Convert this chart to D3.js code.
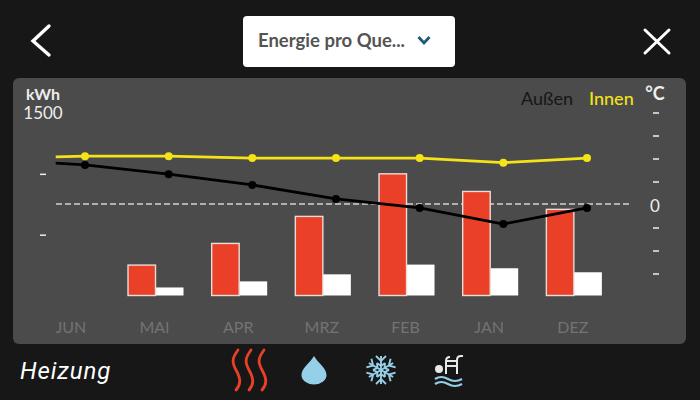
<!DOCTYPE html>
<html>
<head>
<meta charset="utf-8">
<script src="https://cdn.jsdelivr.net/npm/d3@7"></script>
<style>
    html, body { margin: 0; padding: 0; background: #171717; overflow: hidden; }
    svg { display: block; }
    text { font-family: Lato, sans-serif; }
</style>
</head>
<body>
<svg id="chart" width="700" height="400"></svg>
<script>
const months = ["JUN", "MAI", "APR", "MRZ", "FEB", "JAN", "DEZ"];
const heizung = [0, 250, 428, 650, 1000, 855, 708];
const warmwasser = [0, 66, 116, 174, 254, 224, 191];
const innen = [21, 21, 20.2, 20.2, 20.2, 18.2, 20.2];
const aussen = [17.2, 13.2, 8.5, 2.4, -1.5, -8.5, -1.5];
// lines run on a little to the left of the first point
const innenLead = 20.7;
const aussenLead = 18;
const leadIndex = -0.35;
const kwhTicks = [500, 1000];
const tempTicks = [-30, -20, -10, 0, 10, 20, 30, 40];

const svg = d3.select("#chart");

const white = "#ffffff";
const red = "#e94027";
const blue = "#96cfe8";
const yellow = "#f4e318";

// Panel
svg.append("rect")
    .attr("x", 13).attr("y", 78)
    .attr("width", 673).attr("height", 266)
    .attr("rx", 6)
    .attr("fill", "#4b4b4b");

// Scales
const x = d3.scaleBand().domain(months).range([29, 614.7]);
const barW = 27.5;
const barOffset = x.bandwidth() / 2 + 1;
const pointX = d3.scaleLinear().domain([0, 6]).range([85, 587]);
const yKwh = d3.scaleLinear().domain([0, 1500]).range([295.5, 113]);
const yTemp = d3.scaleLinear().domain([0, 10]).range([204.5, 181.5]);

// Axes
const kwhAxis = svg.append("g")
    .attr("transform", "translate(46,0)")
    .call(d3.axisLeft(yKwh).tickValues(kwhTicks).tickSize(6).tickFormat(""));
kwhAxis.select(".domain").remove();
kwhAxis.selectAll("line").attr("stroke", "#eeeeee").attr("stroke-width", 1.5);

const tempAxis = svg.append("g")
    .attr("transform", "translate(653,0)")
    .call(d3.axisRight(yTemp).tickValues(tempTicks).tickSize(6).tickFormat(d => d === 0 ? "0" : ""));
tempAxis.select(".domain").remove();
tempAxis.selectAll("line").attr("stroke", "#eeeeee").attr("stroke-width", 1.5)
    .filter(d => d === 0).remove();
tempAxis.selectAll("text")
    .attr("x", 2)
    .attr("y", 1.5)
    .attr("text-anchor", "middle")
    .attr("fill", "#eeeeee")
    .style("font-size", "17px");

const monthAxis = svg.append("g")
    .attr("transform", "translate(0,327)")
    .call(d3.axisBottom(x).tickSize(0).tickPadding(0));
monthAxis.select(".domain").remove();
monthAxis.selectAll("text")
    .attr("y", 0)
    .attr("dy", "0.35em")
    .attr("fill", "#737373")
    .style("font-family", "Lato, sans-serif")
    .style("font-size", "16px");

// Zero line
svg.append("line")
    .attr("x1", 56).attr("x2", 629)
    .attr("y1", 204).attr("y2", 204)
    .attr("stroke", "#b0b0b0")
    .attr("stroke-width", 2)
    .attr("stroke-dasharray", "6,3");

// Bars
const barData = months.map((m, i) => ({ m, heat: heizung[i], water: warmwasser[i] })).filter(d => d.heat > 0);

svg.selectAll(".bar-water")
    .data(barData)
    .join("rect")
    .attr("class", "bar-water")
    .attr("x", d => x(d.m) + barOffset)
    .attr("y", d => yKwh(d.water))
    .attr("width", barW + 0.5)
    .attr("height", d => yKwh(0) - yKwh(d.water))
    .attr("fill", white);

svg.selectAll(".bar-heat")
    .data(barData)
    .join("rect")
    .attr("class", "bar-heat")
    .attr("x", d => x(d.m) + barOffset - barW)
    .attr("y", d => yKwh(d.heat))
    .attr("width", barW)
    .attr("height", d => yKwh(0) - yKwh(d.heat))
    .attr("fill", red)
    .attr("stroke", "#eadcd8")
    .attr("stroke-width", 1.4);

// Temperature lines
function drawSeries(values, lead, color, r) {
    const pts = [[leadIndex, lead]].concat(values.map((v, i) => [i, v]));
    const line = d3.line().x(d => pointX(d[0])).y(d => yTemp(d[1]));
    svg.append("path")
        .attr("d", line(pts))
        .attr("fill", "none")
        .attr("stroke", color)
        .attr("stroke-width", 2.8);
    svg.append("g").selectAll("circle")
        .data(values)
        .join("circle")
        .attr("cx", (d, i) => pointX(i))
        .attr("cy", d => yTemp(d))
        .attr("r", r)
        .attr("fill", color);
}
drawSeries(innen, innenLead, yellow, 4);
drawSeries(aussen, aussenLead, "#000000", 4);

// Panel labels
svg.append("text").attr("x", 43).attr("y", 100).attr("text-anchor", "middle")
    .attr("fill", "#eeeeee").attr("font-size", 16).attr("font-weight", 700).text("kWh");
svg.append("text").attr("x", 43).attr("y", 119).attr("text-anchor", "middle")
    .attr("fill", "#eeeeee").attr("font-size", 17).text("1500");
svg.append("text").attr("x", 521).attr("y", 105)
    .attr("fill", "#161616").attr("font-size", 18).text("Außen");
svg.append("text").attr("x", 589).attr("y", 105)
    .attr("fill", yellow).attr("font-size", 18).attr("font-weight", 500).text("Innen");
svg.append("text").attr("x", 655).attr("y", 100).attr("text-anchor", "middle")
    .attr("fill", "#eeeeee").attr("font-size", 18).attr("font-weight", 700).text("°C");

// Top bar
svg.append("path")
    .attr("d", "M49,26 L33,41 L49,55")
    .attr("fill", "none").attr("stroke", white).attr("stroke-width", 3.4).attr("stroke-linecap", "round");
svg.append("path")
    .attr("d", "M645,30 L669,53 M669,30 L645,53")
    .attr("fill", "none").attr("stroke", white).attr("stroke-width", 3).attr("stroke-linecap", "round");
svg.append("rect")
    .attr("x", 243).attr("y", 16)
    .attr("width", 212).attr("height", 51)
    .attr("rx", 4).attr("fill", white);
svg.append("text").attr("x", 258).attr("y", 47)
    .attr("fill", "#545454").attr("font-size", 18.5).attr("font-weight", 700).text("Energie pro Que...");
svg.append("path")
    .attr("d", "M418.5,37 L424,43 L429.5,37")
    .attr("fill", "none").attr("stroke", "#1c5d74").attr("stroke-width", 2.8);

// Bottom bar
svg.append("text").attr("x", 20).attr("y", 379)
    .attr("fill", white).attr("font-size", 24).attr("font-style", "italic")
    .attr("letter-spacing", 0.9)
    .style("font-family", "Roboto, sans-serif").text("Heizung");

const wave = "c-5,7 -7,11 -2,20 c5,9 5,14 0,20";
[238, 251, 264].forEach(startX => {
    svg.append("path")
        .attr("d", `M${startX},350 ${wave}`)
        .attr("fill", "none").attr("stroke", red).attr("stroke-width", 2.8).attr("stroke-linecap", "round");
});

// Droplet
svg.append("path")
    .attr("d", "M314,356 C318,363 326.5,368 326.5,375 A12.5,9.5 0 0 1 301.5,375 C301.5,368 310,363 314,356 Z")
    .attr("fill", blue);

// Snowflake
const flake = svg.append("g")
    .attr("transform", "translate(381,370)")
    .attr("fill", "none").attr("stroke", blue).attr("stroke-width", 1.9);
d3.range(6).forEach(i => {
    flake.append("path")
        .attr("transform", `rotate(${i * 60})`)
        .attr("d", "M0,0 V-14 M-5,-14 L0,-9 L5,-14 M-4,-7 L0,-4 L4,-7");
});

// Pool
const pool = svg.append("g").attr("fill", "none").attr("stroke-width", 2.2);
pool.append("circle").attr("cx", 439).attr("cy", 369).attr("r", 4).attr("fill", "#e8e8e8");
pool.append("path").attr("stroke", "#e8e8e8").attr("stroke-width", 2)
    .attr("d", "M446,374 V361 Q446,357 450,357 M446,366 H457 M446,361 H457 M457,374 V360 Q457,356 461,356 H463");
pool.append("path").attr("stroke", blue)
    .attr("d", "M435,379 Q441,375 448,379 T462,379 M435,384 Q441,380 448,384 T462,384");
</script>
</body>
</html>
